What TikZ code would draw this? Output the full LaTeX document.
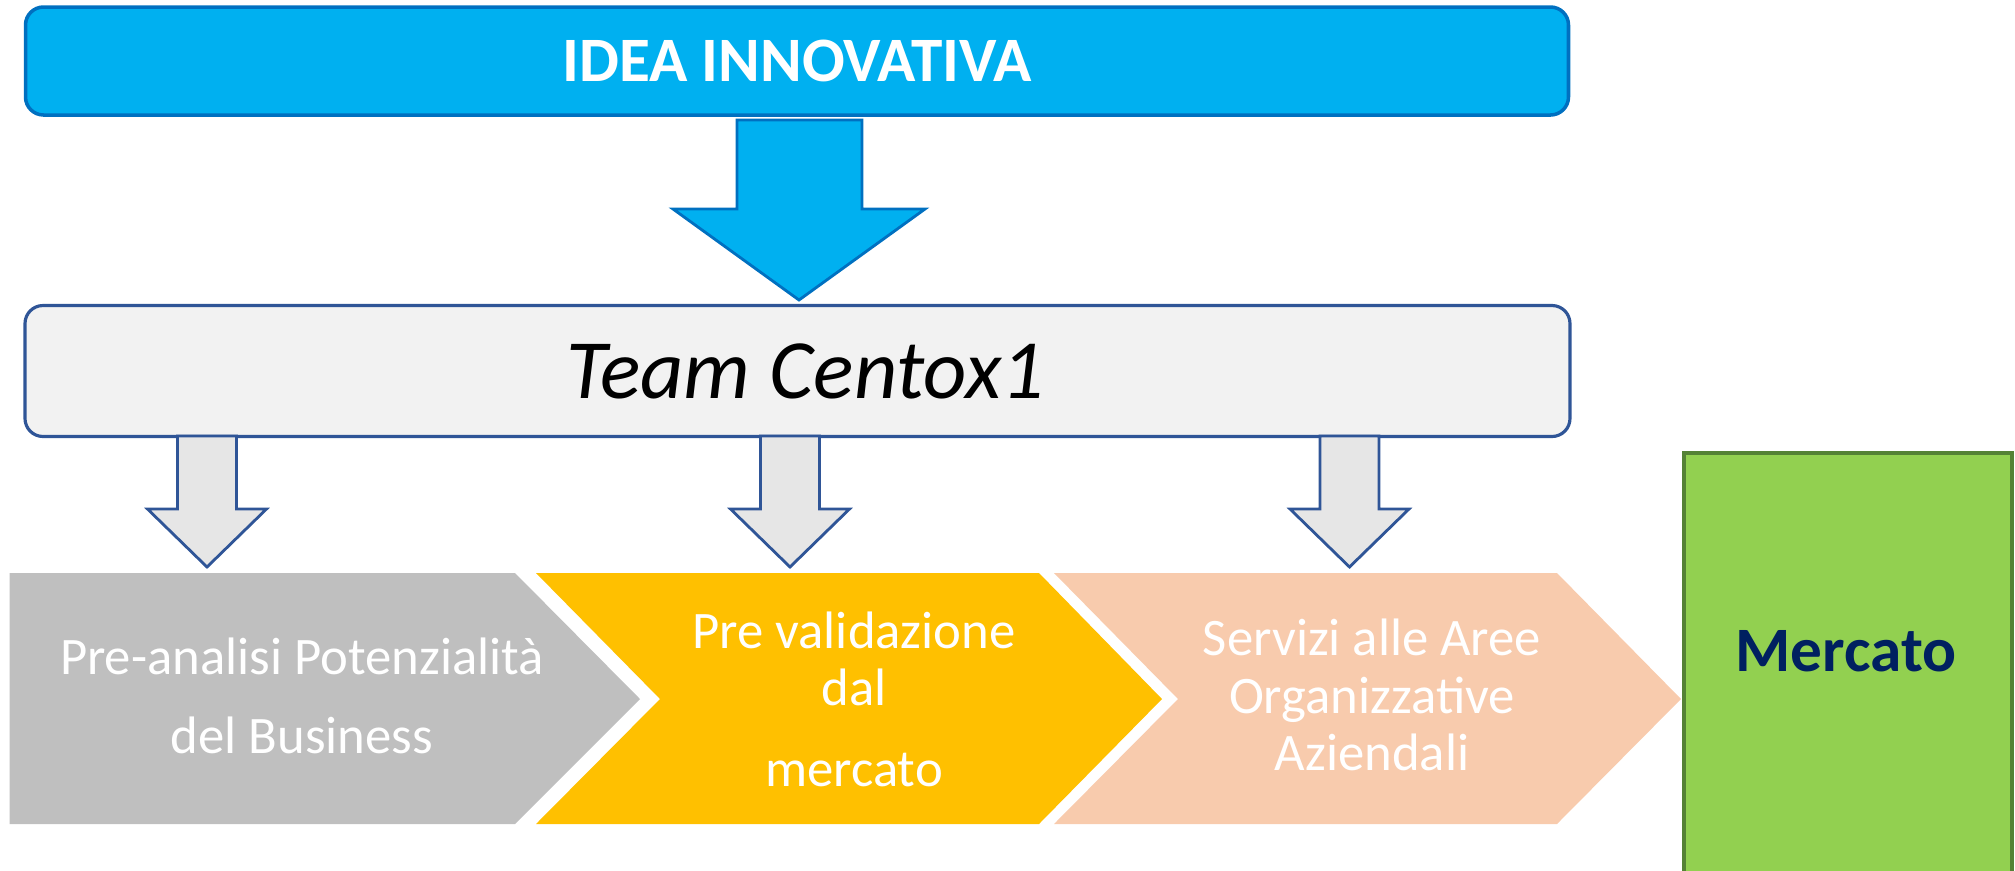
\documentclass[tikz,border=0pt]{standalone}
\usepackage{fontspec}
\setmainfont{Carlito}

\definecolor{ideablue}{HTML}{00B0F0}
\definecolor{ideaedge}{HTML}{0070C0}
\definecolor{teamedge}{HTML}{2F5597}
\definecolor{teamfill}{HTML}{F2F2F2}
\definecolor{arrowfill}{HTML}{E6E6E6}
\definecolor{stepgrey}{HTML}{BFBFBF}
\definecolor{stepyellow}{HTML}{FFC000}
\definecolor{steppeach}{HTML}{F8CBAD}
\definecolor{marketfill}{HTML}{92D050}
\definecolor{marketedge}{HTML}{548235}
\definecolor{markettext}{HTML}{002060}

\tikzset{
  topbox/.style={draw=ideaedge, line width=1pt, fill=ideablue, rounded corners=1.8mm,
    minimum width=154.3mm, minimum height=10.8mm, text=white,
    font=\fontsize{18}{20}\selectfont\bfseries},
  teambox/.style={draw=teamedge, line width=0.9pt, fill=teamfill, rounded corners=1.8mm,
    minimum width=154.5mm, minimum height=13.1mm,
    font=\fontsize{24}{28}\selectfont\itshape},
  smallarrow/.style={draw=teamedge, line width=0.8pt, fill=arrowfill},
  steptext/.style={text=white, font=\fontsize{15}{16.4}\selectfont, align=center},
}

\begin{document}
\begin{tikzpicture}[x=0.1mm, y=-0.1mm]
    \useasboundingbox (0,0) rectangle (2015,870);
    \clip (0,0) rectangle (2015,870);

    \node [topbox] (idea) at (797,61) {IDEA INNOVATIVA};
    \draw [draw=ideaedge, line width=0.8pt, fill=ideablue] (737,120) -- (862,120) -- (862,209)
        -- (925,209) -- (799,300) -- (673,209) -- (737,209) -- cycle;

    \node [teambox] (team) at (797.5,371) {\hspace*{8mm}Team Centox1\hspace*{6.4mm}};

    % frecce verso le fasi
    \draw [smallarrow] (177.5,436) -- (236.5,436) -- (236.5,509) -- (266.5,509)
        -- (207,567) -- (147.5,509) -- (177.5,509) -- cycle;
    \draw [smallarrow] (760.5,436) -- (819.5,436) -- (819.5,509) -- (849.5,509)
        -- (790,567) -- (730.5,509) -- (760.5,509) -- cycle;
    \draw [smallarrow] (1320,436) -- (1379,436) -- (1379,509) -- (1409,509)
        -- (1349.5,567) -- (1290,509) -- (1320,509) -- cycle;

    % fasi
    \fill [stepgrey] (9.6,573) -- (515,573) -- (640,699) -- (515,824) -- (9.6,824) -- cycle;
    \fill [stepyellow] (536,573) -- (1039,573) -- (1162,699) -- (1039,824) -- (536,824)
        -- (660,699) -- cycle;
    \fill [steppeach] (1054,573) -- (1557,573) -- (1681,699) -- (1557,824) -- (1054,824)
        -- (1178,699) -- cycle;

    \node [steptext, font=\fontsize{15}{22.5}\selectfont] (analisi) at (302,696)
        {Pre-analisi Potenzialità\\del Business};
    \node [steptext] (validazione) at (854,699) {Pre validazione\\dal\\[6.5pt]mercato};
    \node [steptext] (servizi) at (1372,695) {Servizi alle Aree\\Organizzative\\Aziendali};

    \draw [draw=marketedge, line width=1.2pt, fill=marketfill] (1684,453) rectangle (2012,890);
    \node [anchor=base, text=markettext, font=\fontsize{18}{20}\selectfont\bfseries]
        (mercato) at (1846,671) {Mercato};
\end{tikzpicture}
\end{document}
